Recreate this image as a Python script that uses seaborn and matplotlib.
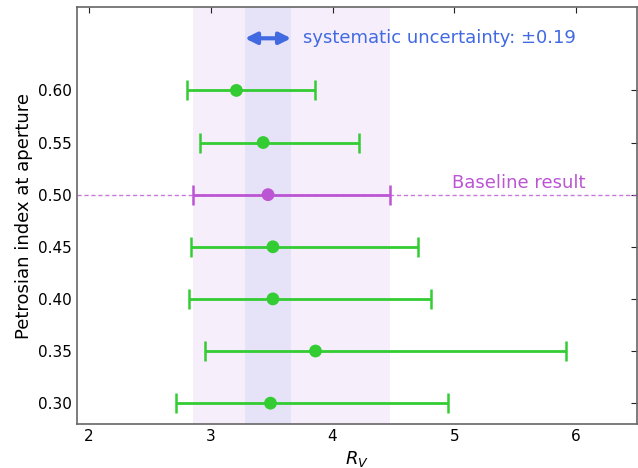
import numpy as np
import pandas as pd
import matplotlib
matplotlib.use("Agg")
import matplotlib.pyplot as plt
import seaborn as sns

petro = [0.60, 0.55, 0.50, 0.45, 0.40, 0.35, 0.30]
rv = [3.21, 3.43, 3.47, 3.51, 3.51, 3.86, 3.49]
rv_low = [2.80, 2.91, 2.85, 2.84, 2.82, 2.95, 2.71]
rv_high = [3.86, 4.22, 4.47, 4.70, 4.81, 5.92, 4.95]
baseline_petro = 0.50
sys_unc = 0.19

sns.set_style("white")
plt.rcParams['font.family'] = ['DejaVu Sans']
plt.rcParams['text.color'] = 'black'
plt.rcParams['axes.labelcolor'] = 'black'
plt.rcParams['xtick.color'] = 'black'
plt.rcParams['ytick.color'] = 'black'

df = pd.DataFrame({"petro": petro, "rv": rv, "lo": rv_low, "hi": rv_high})
df["base"] = np.isclose(df["petro"], baseline_petro)

fig = plt.figure(figsize=(6.38, 4.68), dpi=100)
ax = fig.add_axes([0.1207, 0.094, 0.8773, 0.891])

base = df[df["base"]].iloc[0]
green = "#33cc33"
purple = "#bb55d3"

# bands
ax.axvspan(base["lo"], base["hi"], color="#f6effb", zorder=0, lw=0)
ax.axvspan(base["rv"] - sys_unc, base["rv"] + sys_unc, color="#e6e2f7", zorder=0.5, lw=0)

ax.axhline(baseline_petro, color=purple, ls=(0, (3, 2)), lw=1, alpha=0.8, zorder=1)

for _, r in df.iterrows():
    c = purple if r["base"] else green
    ax.errorbar(r["rv"], r["petro"], xerr=[[r["rv"] - r["lo"]], [r["hi"] - r["rv"]]],
                fmt="none", ecolor=c, elinewidth=2, capsize=7, capthick=1.8, zorder=2)

sns.scatterplot(data=df, x="rv", y="petro", hue="base",
                palette={False: green, True: purple}, s=85, edgecolor="none",
                legend=False, ax=ax, zorder=3)

ax.annotate("", xy=(base["rv"] - sys_unc, 0.65), xytext=(base["rv"] + sys_unc, 0.65),
            arrowprops=dict(arrowstyle="<|-|>", color="#4169e1", lw=3,
                            mutation_scale=17, shrinkA=0, shrinkB=0))
ax.text(3.76, 0.65, "systematic uncertainty: \u00b10.19", color="#4169e1",
        fontsize=13, va="center", ha="left")
ax.text(6.08, 0.503, "Baseline result", color=purple, fontsize=13,
        va="bottom", ha="right")

ax.set_xlim(1.9, 6.5)
ax.set_ylim(0.28, 0.68)
ax.set_xticks([2, 3, 4, 5, 6])
ax.set_yticks(petro[::-1])
ax.set_yticklabels([f"{p:.2f}" for p in petro[::-1]])
ax.tick_params(direction="in", top=True, right=True, labelsize=11, length=4,
               color="#222222")
ax.set_xlabel("$R_V$", fontsize=13)
ax.set_ylabel("Petrosian index at aperture", fontsize=13)
for s in ax.spines.values():
    s.set_color("#666666")
    s.set_linewidth(1.2)

fig.savefig("out.png", dpi=100)
